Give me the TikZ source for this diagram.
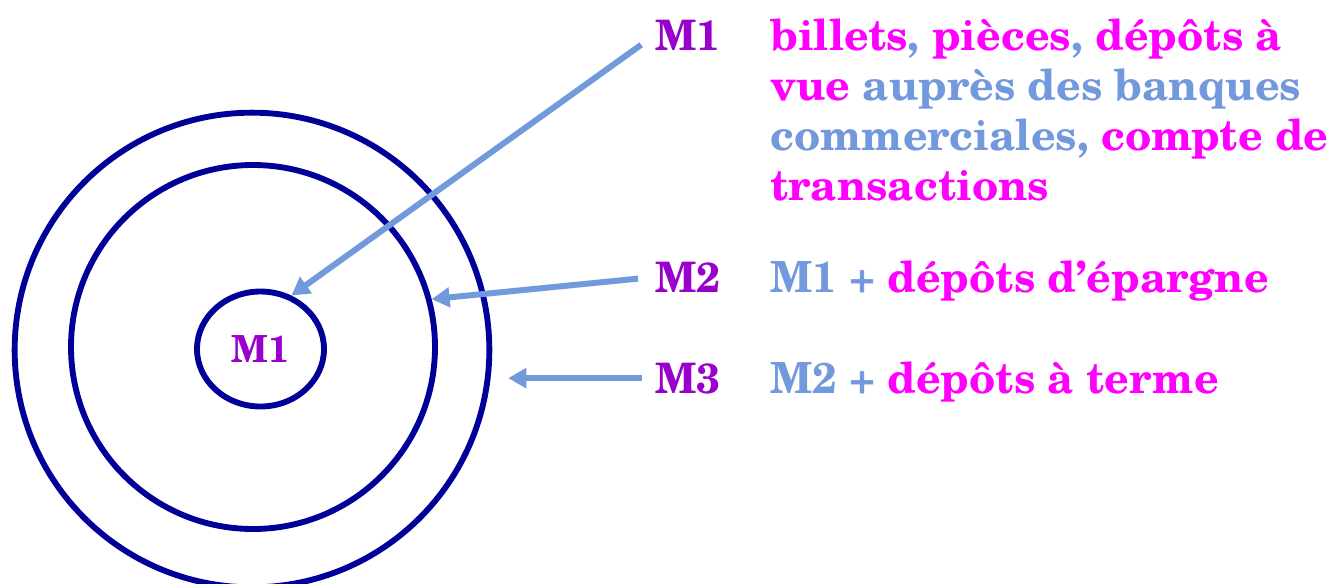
\documentclass[tikz,border=0pt]{standalone}
\usepackage{fontspec}
\setmainfont{texgyreschola}[Extension=.otf, UprightFont=*-regular, BoldFont=*-bold, ItalicFont=*-italic, BoldItalicFont=*-bolditalic]
\usetikzlibrary{arrows.meta,shapes.geometric}
\definecolor{mpurple}{HTML}{9900CC}
\definecolor{mmag}{HTML}{FF00FF}
\definecolor{mblue}{HTML}{7399DD}
\definecolor{mnavy}{HTML}{000099}
\newcommand{\mg}[1]{\textcolor{mmag}{#1}}
\newcommand{\bl}[1]{\textcolor{mblue}{#1}}
\tikzset{
  ring/.style={draw=mnavy, line width=4.4pt, inner sep=0pt},
  lab/.style={text=mpurple, font=\fontsize{31.5}{37.5}\selectfont\bfseries, inner sep=0pt, anchor=base west},
  desc/.style={font=\fontsize{32.2}{37.5}\selectfont\bfseries, inner sep=0pt, anchor=base west},
  arr/.style={draw=mblue, line width=4.5pt, -{Triangle[length=13.5pt,width=14.5pt]}},
}
\begin{document}
\begin{tikzpicture}[x=0.75pt, y=-0.75pt]
\useasboundingbox (0,0) rectangle (1338,583);
\clip (0,0) rectangle (1338,583);
\fill[white] (0,0) rectangle (1338,583);
% rings
\node[ring, circle, minimum size=356pt] (outer) at (252,350) {};
\node[ring, circle, minimum size=273pt] (middle) at (253,347) {};
\node[ring, ellipse, minimum width=95.25pt, minimum height=86.25pt,
      text=mpurple, font=\fontsize{28}{34}\selectfont\bfseries] (inner) at (260.5,349) {M1};
% labels
\node[lab] (l1) at (655,50) {M1};
\node[lab] (l2) at (655,292) {M2};
\node[lab] (l3) at (655,393) {M3};
% descriptions
\node[desc] (d1) at (770,50) {\vtop{\baselineskip=37.5pt
  \hbox{\mg{billets}\bl{,} \mg{pièces}\bl{,} \mg{dépôts à}}
  \hbox{\mg{vue} \bl{auprès des banques}}
  \hbox{\bl{commerciales,} \mg{compte de}}
  \hbox{\mg{transactions}}}};
\node[desc] (d2) at (770,292) {\bl{M1 +} \mg{dépôts d’épargne}};
\node[desc] (d3) at (770,393) {\bl{M2 +} \mg{dépôts à terme}};
% arrows
\draw[arr, shorten <=12.75pt] (l1.west) -- (inner.60);
\draw[arr, shorten <=12.75pt] (l2.west) -- (middle.15);
\draw[arr, shorten <=10pt, shorten >=12pt] (l3.west) -- (l3.west -| outer.east);
\end{tikzpicture}
\end{document}
